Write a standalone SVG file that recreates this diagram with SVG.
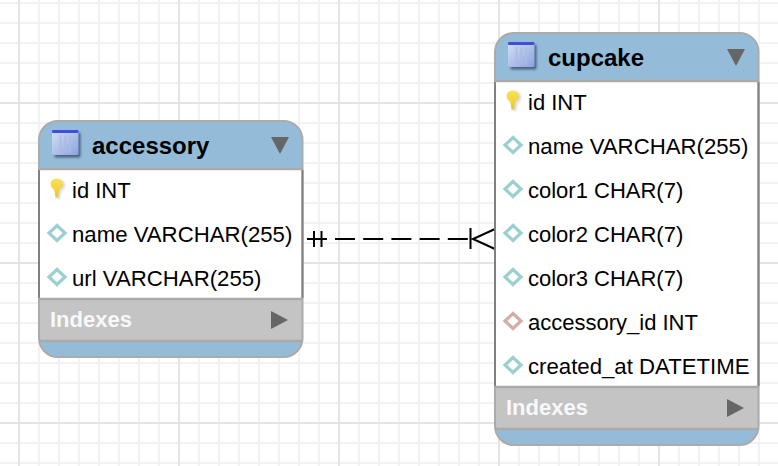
<svg xmlns="http://www.w3.org/2000/svg" width="778" height="466" viewBox="0 0 778 466">
<style>
text{font-family:"Liberation Sans",Arial,sans-serif;fill:#000}
.t{font-size:24px;font-weight:bold}
.r{font-size:22.2px}
.s{font-size:22px}
.i{font-size:22px;font-weight:bold;fill:#f8f8f8}
.frame{fill:none;stroke:#ababab;stroke-width:2}
.side{fill:#fff;stroke:none}
.head{fill:#94bcd8}
.idx{fill:#c4c4c4}
.sep{stroke:#aaa;stroke-width:2.4;fill:none}
.tri{fill:#666}
.d{fill:#fff;stroke:#9ccfcf;stroke-width:3.2}
.fk{fill:#fff;stroke:#d3adaa;stroke-width:3.2}
.c{stroke:#000;stroke-width:2;fill:none}
.g1{stroke:#f2f2f2;stroke-width:2;fill:none}
.g2{stroke:#e4e4e4;stroke-width:2;fill:none}
</style>
<defs>
<linearGradient id="ig" x1="0" y1="0" x2="1" y2="1"><stop offset="0" stop-color="#d4dff4"/><stop offset="1" stop-color="#8ba4de"/></linearGradient>
<linearGradient id="kg" x1="0" y1="0" x2="0" y2="1"><stop offset="0" stop-color="#f8e25a"/><stop offset="1" stop-color="#f0c81e"/></linearGradient>
<filter id="bl" x="-30%" y="-30%" width="160%" height="160%"><feGaussianBlur stdDeviation="1"/></filter>
<filter id="sf" x="-30%" y="-30%" width="160%" height="160%"><feGaussianBlur stdDeviation="0.55"/></filter>
<g id="icon" filter="url(#sf)">
<rect x="2.500" y="2.500" width="26" height="25" rx="1" fill="#3a4d70" opacity="0.8" filter="url(#bl)"/>
<rect width="26.500" height="25" rx="1.500" fill="url(#ig)"/>
<rect width="26.500" height="3" rx="1" fill="#4150d4"/>
<path d="M8.500 5V23M13.200 5V23M18 5V23" stroke="#a9bbe4" stroke-width="1.500" fill="none"/>
</g>
<g id="key">
<path d="M0 6a6.500 6 0 0 1 13 0c0 2.500-2 4-3.800 5.500l-1.200 8h-3l-1.200-8C2 10 0 8.500 0 6z" fill="#bbb" opacity="0.6" filter="url(#bl)" transform="translate(1.500 1)"/>
<path d="M0 5.500a6.200 5.500 0 0 1 12.400 0c0 2.500-2 4-3.700 5.500l-1.400 8h-2.200l-1.400-8C2 9.500 0 8 0 5.500z" fill="url(#kg)" filter="url(#sf)"/>
</g>
<path id="dia" d="M0 -7.500L8 0L0 7.500L-8 0Z" filter="url(#sf)"/>
</defs>
<g id="grid">
<path class="g1" d="M0 3H778M0 23H778M0 43H778M0 63H778M0 83H778M0 123H778M0 143H778M0 163H778M0 183H778M0 203H778M0 223H778M0 243H778M0 283H778M0 303H778M0 323H778M0 343H778M0 363H778M0 383H778M0 403H778M0 443H778M0 463H778"/>
<path class="g1" d="M39 0V466M59 0V466M79 0V466M99 0V466M119 0V466M139 0V466M159 0V466M199 0V466M219 0V466M239 0V466M259 0V466M279 0V466M299 0V466M319 0V466M359 0V466M379 0V466M399 0V466M419 0V466M439 0V466M459 0V466M479 0V466M519 0V466M539 0V466M559 0V466M579 0V466M599 0V466M619 0V466M639 0V466M679 0V466M699 0V466M719 0V466M739 0V466M759 0V466"/>
<path class="g2" d="M0 103H778M0 263H778M0 423H778M19 0V466M179 0V466M339 0V466M499 0V466M659 0V466"/>
</g>
<g id="connectors">
<path class="c" d="M307 239H327M314 231V247M321.500 231V247"/>
<path class="c" d="M335 239H470" stroke-dasharray="20 8.200"/>
<path class="c" d="M470.500 228V249M495 229L473 239L495 249"/>
</g>
<g id="accessory">
<path class="side" d="M39 168H302.500V300H39Z"/>
<path class="head" d="M39 169V140a19 19 0 0 1 19-19H283.500a19 19 0 0 1 19 19V169Z"/>
<rect class="idx" x="39" y="299" width="263.500" height="42"/>
<path class="head" d="M39 341H302.500V338a19 19 0 0 1-19 19H58a19 19 0 0 1-19-19Z"/>
<rect class="frame" x="39" y="121" width="263.500" height="236" rx="19" ry="19"/>
<path d="M39 170V298M302.500 170V298" stroke="#808080" stroke-width="2" fill="none"/>
<path class="sep" d="M39 169H302.500M39 299H302.500M39 341H302.500"/>
<use href="#icon" x="52" y="130"/>
<text class="t" x="92" y="154">accessory</text>
<path class="tri" d="M271 137H289L280 154Z"/>
<use href="#key" x="50.500" y="178.500"/>
<text class="s" x="72" y="198">id INT</text>
<use href="#dia" class="d" x="57" y="233"/>
<text class="r" x="72" y="242">name VARCHAR(255)</text>
<use href="#dia" class="d" x="57" y="277"/>
<text class="r" x="72" y="286">url VARCHAR(255)</text>
<text class="i" x="50" y="327">Indexes</text>
<path class="tri" d="M271 311L288 320L271 329Z"/>
</g>
<g id="cupcake">
<path class="side" d="M495 80H758.500V388H495Z"/>
<path class="head" d="M495 81V52a19 19 0 0 1 19-19H739.500a19 19 0 0 1 19 19V81Z"/>
<rect class="idx" x="495" y="387" width="263.500" height="42"/>
<path class="head" d="M495 429H758.500V426a19 19 0 0 1-19 19H514a19 19 0 0 1-19-19Z"/>
<rect class="frame" x="495" y="33" width="263.500" height="412" rx="19" ry="19"/>
<path d="M495 82V386M758.500 82V386" stroke="#808080" stroke-width="2" fill="none"/>
<path class="sep" d="M495 81H758.500M495 387H758.500M495 429H758.500"/>
<use href="#icon" x="508" y="42"/>
<text class="t" x="548" y="66">cupcake</text>
<path class="tri" d="M727 49H745L736 66Z"/>
<use href="#key" x="506.500" y="90.500"/>
<text class="s" x="528" y="110">id INT</text>
<use href="#dia" class="d" x="513" y="145"/>
<text class="r" x="528" y="154">name VARCHAR(255)</text>
<use href="#dia" class="d" x="513" y="189"/>
<text class="s" x="528" y="198">color1 CHAR(7)</text>
<use href="#dia" class="d" x="513" y="233"/>
<text class="s" x="528" y="242">color2 CHAR(7)</text>
<use href="#dia" class="d" x="513" y="277"/>
<text class="s" x="528" y="286">color3 CHAR(7)</text>
<use href="#dia" class="fk" x="513" y="321"/>
<text class="s" x="528" y="330">accessory_id INT</text>
<use href="#dia" class="d" x="513" y="365"/>
<text class="r" x="528" y="374">created_at DATETIME</text>
<text class="i" x="506" y="415">Indexes</text>
<path class="tri" d="M727 399L744 408L727 417Z"/>
</g>
</svg>
